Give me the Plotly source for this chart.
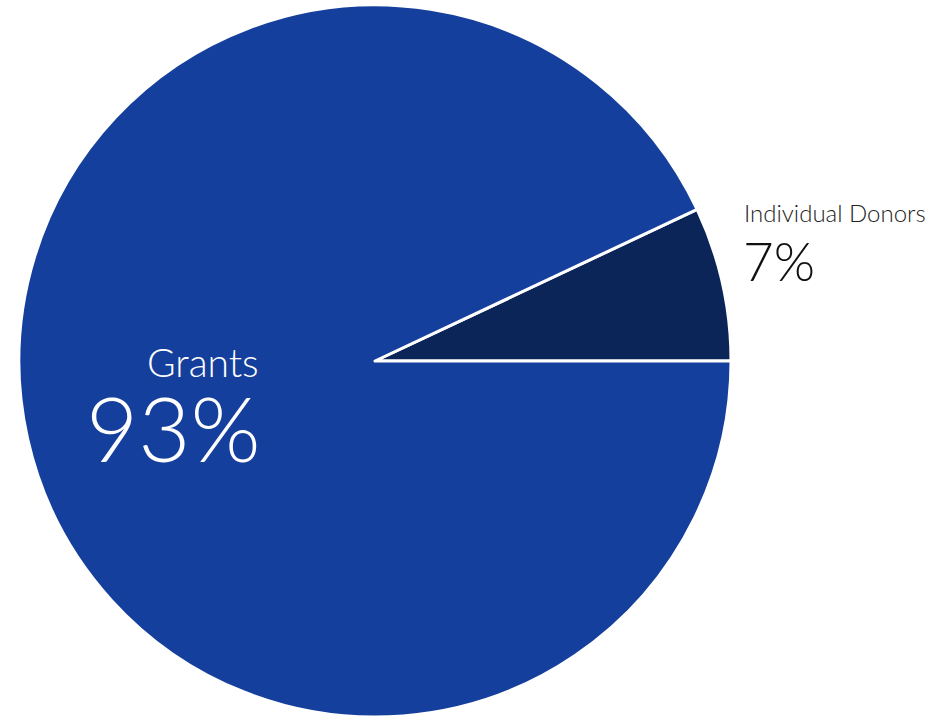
import plotly.graph_objects as go

labels = ["Individual Donors", "Grants"]
values = [7, 93]
colors = ["#0C2558", "#153F9C"]

start_angle = 90 - 360 * values[0] / sum(values)

fig = go.Figure(go.Pie(
    labels=labels, values=values, sort=False,
    direction="clockwise", rotation=start_angle,
    marker=dict(colors=colors, line=dict(color="white", width=3)),
    textinfo="none", hoverinfo="skip", showlegend=False,
    domain=dict(x=[19/928, 731/928], y=[0, 712/717]),
))

W, H = 928, 717
FONT = "Lato"

def ann(text, x, y, size, color, xanchor):
    fig.add_annotation(text=text, x=x/W, y=1 - y/H, xref="paper", yref="paper",
                       xanchor=xanchor, yanchor="middle", showarrow=False,
                       font=dict(family=FONT, size=size, color=color, weight=300))

ann(labels[1], 261, 362, 39, "white", "right")
ann(f"{values[1]}%", 263, 427, 90, "white", "right")
ann(labels[0], 742, 212, 24, "#222222", "left")
ann(f"{values[0]}%", 741, 260, 53, "#111111", "left")

fig.update_layout(width=W, height=H, margin=dict(l=0, r=0, t=0, b=0),
                  paper_bgcolor="white", plot_bgcolor="white")
fig.write_html("out.html")
